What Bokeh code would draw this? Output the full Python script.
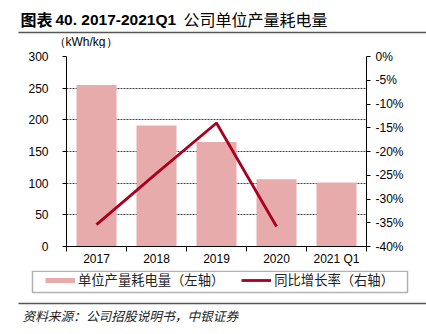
import numpy as np
from bokeh.plotting import figure
from bokeh.layouts import column
from bokeh.models import (Range1d, LinearAxis, FixedTicker, NumeralTickFormatter, Plot,
                          Label, Legend, LegendItem, BoxAnnotation, ColumnDataSource, Line)
from bokeh.embed import file_html
from bokeh.resources import INLINE

# ---- data ----
categories = ["2017", "2018", "2019", "2020", "2021 Q1"]
power = [255, 191, 165, 106, 101]               # kWh/kg (left axis)
growth_years = ["2017", "2018", "2019", "2020"]
growth = [-0.354, -0.246, -0.140, -0.358]       # YoY growth (right axis)
left_ticks = [0, 50, 100, 150, 200, 250, 300]
right_ticks = [0, -0.05, -0.10, -0.15, -0.20, -0.25, -0.30, -0.35, -0.40]

BAR = "#E8ABAB"
LINE = "#A8001E"
CJK = "Noto Sans CJK SC"
LAT = "Liberation Sans"
W = 426

xpos = [i + 0.5 for i in range(len(categories))]
gx = [categories.index(c) + 0.5 for c in growth_years]


def blank(height):
    # a plain strip whose frame is the whole strip; data units = pixels, y downward
    return Plot(width=W, height=height, x_range=Range1d(0, W), y_range=Range1d(height, 0),
                min_border=0, toolbar_location=None, output_backend="svg",
                outline_line_color=None, background_fill_color="white",
                border_fill_color="white", frame_align=False)


def lab(plot, text, x, y, font, size, style="normal", color="black"):
    plot.add_layout(Label(text=text, x=x, y=y, text_font=font, text_font_size=size,
                          text_font_style=style, text_color=color,
                          text_baseline="middle", text_align="left"))


def rule(plot, x0, x1, y, th=1.4, color="#555555"):
    plot.add_layout(BoxAnnotation(left=x0, right=x1, top=y - th / 2, bottom=y + th / 2,
                                  fill_color=color, fill_alpha=1, line_color=None))


# ---------- top strip: title ----------
TOP_H = 48
top = blank(TOP_H)
lab(top, "图表", 20, 18.5, CJK, "16px", "bold")
lab(top, "40. 2017-2021Q1", 55, 18.5, LAT, "15.5px", "bold")
lab(top, "公司单位产量耗电量", 183, 18.5, CJK, "16px")
rule(top, 18, W, 32)
lab(top, "（kWh/kg）", 53, 41, LAT, "12px")

# ---------- main chart ----------
MAIN_H = 222   # canvas y 48 .. 270 ; frame 56 .. 246
p = figure(width=W, height=MAIN_H, output_backend="svg", toolbar_location=None, tools="",
           x_range=Range1d(0, len(categories)), y_range=Range1d(0, 300),
           min_border_left=66, min_border_right=60, min_border_top=8, min_border_bottom=24,
           frame_align=False)
p.outline_line_color = None
p.background_fill_color = "white"
p.border_fill_color = "white"
p.extra_y_ranges = {"pct": Range1d(-0.40, 0)}

xa = p.xaxis[0]
xa.ticker = FixedTicker(ticks=xpos, minor_ticks=list(range(len(categories) + 1)))
xa.major_label_overrides = {x: c for x, c in zip(xpos, categories)}
xa.major_tick_line_color = None
xa.major_tick_out = 5
xa.major_tick_in = 0
xa.minor_tick_line_color = "black"
xa.minor_tick_out = 5
xa.minor_tick_in = 0
xa.axis_line_color = "black"
xa.major_label_standoff = 0
xa.major_label_text_font = LAT
xa.major_label_text_font_size = "12px"
xa.major_label_text_color = "black"

ya = p.yaxis[0]
ya.ticker = FixedTicker(ticks=left_ticks)
ya.major_tick_out = 4
ya.major_tick_in = 0
ya.minor_tick_line_color = None
ya.axis_line_color = "black"
ya.major_tick_line_color = "black"
ya.major_label_standoff = 14
ya.major_label_text_font = LAT
ya.major_label_text_font_size = "12px"
ya.major_label_text_color = "black"

ra = LinearAxis(y_range_name="pct", ticker=FixedTicker(ticks=right_ticks),
                formatter=NumeralTickFormatter(format="0%"))
ra.major_tick_out = 4
ra.major_tick_in = 0
ra.minor_tick_line_color = None
ra.axis_line_color = "black"
ra.major_label_standoff = 5
ra.major_label_text_font = LAT
ra.major_label_text_font_size = "12px"
ra.major_label_text_color = "black"
p.add_layout(ra, "right")

p.xgrid.grid_line_color = None
p.ygrid.ticker = FixedTicker(ticks=left_ticks)
p.ygrid.grid_line_color = "#444444"
p.ygrid.grid_line_dash = "2 1"
p.ygrid.grid_line_width = 1

p.vbar(x=xpos, top=power, width=0.667, fill_color=BAR, line_color=None)
p.line(gx, growth, y_range_name="pct", line_color=LINE, line_width=2.8)

# ---------- bottom strip: legend + source ----------
BOT_H = 64     # canvas y 270 .. 334
bot = blank(BOT_H)
# legend swatch proxies (a single NaN point: nothing is drawn in the strip)
proxy = ColumnDataSource(data=dict(x=np.array([np.nan]), y=np.array([np.nan])))
sw_bar = bot.add_glyph(proxy, Line(x="x", y="y", line_color=BAR, line_width=5))
sw_line = bot.add_glyph(proxy, Line(x="x", y="y", line_color=LINE, line_width=2.8))
legend = Legend(items=[LegendItem(label="单位产量耗电量（左轴）", renderers=[sw_bar]),
                       LegendItem(label="同比增长率（右轴）", renderers=[sw_line])],
                orientation="horizontal", location=(45, BOT_H - 19),
                glyph_width=30, glyph_height=16, label_height=16, label_standoff=3,
                spacing=17, padding=0, margin=0,
                border_line_color=None, background_fill_alpha=0,
                label_text_font=CJK, label_text_font_size="13.3px", label_text_color="#222222")
bot.add_layout(legend, "center")
bot.add_layout(BoxAnnotation(left=32, right=407, top=0.8, bottom=22,
                             fill_alpha=0, line_color="black", line_width=1.5))
rule(bot, 18, W, 33)
lab(bot, "资料来源：公司招股说明书，中银证券", 22, 45, CJK, "12.7px", "italic", "#222222")

layout = column(top, p, bot, spacing=0)
open("out.html", "w").write(file_html(layout, INLINE))
